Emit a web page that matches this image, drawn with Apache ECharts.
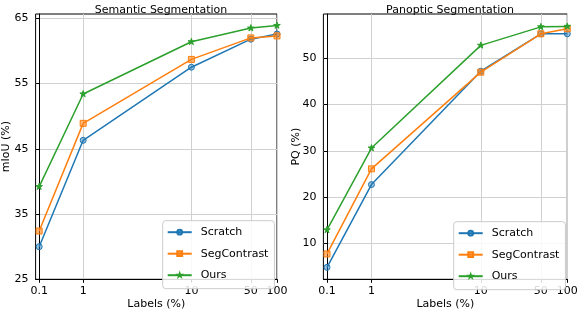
<!DOCTYPE html>
<html><head><meta charset="utf-8">
<script src="https://cdn.jsdelivr.net/npm/echarts@6/dist/echarts.min.js"></script>
<style>html,body{margin:0;padding:0;background:#fff}#c{width:578px;height:310px}</style>
</head><body><div id="c"></div>
<script>
// x values (labels in %) and their tick labels
const labelsPct = [0.1, 1, 10, 50, 100];
const xTickLabels = ['0.1', '1', '10', '50', '100'];
// anchor of each label value on the figure's custom x scale (0..100)
const xAxisAnchor = [0, 18.5, 64, 89, 100];

// Semantic segmentation (mIoU %)
const semScratch     = [30.0, 46.3, 57.5, 61.8, 62.6];
const semSegContrast = [32.4, 48.9, 58.7, 62.0, 62.3];
const semOurs        = [39.2, 53.4, 61.4, 63.5, 63.9];
// Panoptic segmentation (PQ %)
const panScratch     = [4.8, 22.7, 47.2, 55.3, 55.3];
const panSegContrast = [7.7, 26.1, 47.0, 55.3, 56.4];
const panOurs        = [12.9, 30.6, 52.8, 56.8, 56.9];

const semTicks = [25, 35, 45, 55, 65];
const panTicks = [10, 20, 30, 40, 50];
const seriesNames = ['Scratch', 'SegContrast', 'Ours'];

const xScale = v => xAxisAnchor[labelsPct.indexOf(v)];
const toPts = vals => labelsPct.map((x, i) => [xScale(x), vals[i]]);

const FONT = 'DejaVu Sans';
// star with transparent padding in its bounding box
const STAR = 'path://M-30,-30 M130,130 M50,0 L61,35 L98,35 L68,57 L79,91 L50,70 L21,91 L32,57 L2,35 L39,35 Z';
const styles = [
  {color: '#1f77b4', fill: 'rgba(31,119,180,0.45)', symbol: 'circle', size: 6},
  {color: '#ff7f0e', fill: 'rgba(255,127,14,0.55)', symbol: 'rect', size: 6},
  {color: '#2ca02c', fill: '#2ca02c', symbol: STAR, size: 11}
];

function mkX(idx) {
  return {
    type: 'value', gridIndex: idx, min: -1.5, max: 100,
    name: 'Labels (%)', nameLocation: 'middle', nameGap: 19.5, nameMoveOverlap: false,
    nameTextStyle: {fontFamily: FONT, fontSize: 11, color: '#000'},
    axisLine: {show: true, lineStyle: {color: '#000', width: 1}},
    axisTick: {show: true, length: 3.5, inside: false, lineStyle: {color: '#000'}, customValues: xAxisAnchor},
    axisLabel: {customValues: xAxisAnchor, margin: 6, fontFamily: FONT, fontSize: 11, color: '#000',
      formatter: v => { const i = xAxisAnchor.indexOf(v); return i >= 0 ? xTickLabels[i] : ''; }},
    splitLine: {show: true, lineStyle: {color: '#d0d0d0', width: 1}}
  };
}
function mkY(idx, min, max, ticks, name, gap) {
  return {
    type: 'value', gridIndex: idx, min: min, max: max,
    name: name, nameLocation: 'middle', nameGap: gap, nameMoveOverlap: false,
    nameTextStyle: {fontFamily: FONT, fontSize: 11, color: '#000'},
    axisLine: {show: true, lineStyle: {color: '#000', width: 1}},
    axisTick: {show: true, length: 3.5, lineStyle: {color: '#000'}, customValues: ticks},
    axisLabel: {customValues: ticks, margin: 7, fontFamily: FONT, fontSize: 11, color: '#000'},
    splitLine: {show: true, lineStyle: {color: '#d0d0d0', width: 1}}
  };
}
function mkSeries(name, k, vals, idx) {
  const s = styles[k];
  return {
    type: 'line', name: name, xAxisIndex: idx, yAxisIndex: idx,
    data: toPts(vals), symbol: s.symbol, symbolSize: s.size, showAllSymbol: true,
    lineStyle: {color: s.color, width: 1.5},
    itemStyle: {color: s.fill, borderColor: s.color, borderWidth: 1},
    emphasis: {disabled: true}, animation: false, z: 3 + k
  };
}
function mkLegend(left, top) {
  return {
    data: seriesNames, orient: 'vertical', left: left, top: top,
    itemWidth: 24, itemHeight: 6, itemGap: 10.5,
    padding: [6, 6, 8, 4],
    backgroundColor: 'rgba(255,255,255,0.85)', borderColor: '#cccccc', borderWidth: 1, borderRadius: 3,
    textStyle: {fontFamily: FONT, fontSize: 11, color: '#000', padding: [0, 0, 0, 4]},
    selectedMode: false
  };
}

const chart = echarts.init(document.getElementById('c'), null, {renderer: 'canvas'});
chart.setOption({
  animation: false,
  backgroundColor: '#fff',
  title: [
    {text: 'Semantic Segmentation', left: 156, top: 0, textAlign: 'center',
     textStyle: {fontFamily: FONT, fontSize: 11, fontWeight: 'normal', color: '#000'}},
    {text: 'Panoptic Segmentation', left: 445, top: 0, textAlign: 'center',
     textStyle: {fontFamily: FONT, fontSize: 11, fontWeight: 'normal', color: '#000'}}
  ],
  grid: [
    {left: 35.6, top: 14, width: 241.4, height: 265.3, outerBoundsMode: 'none', containLabel: false,
     show: true, borderColor: '#000', borderWidth: 1, backgroundColor: 'transparent'},
    {left: 323.4, top: 14, width: 243.9, height: 265.3, outerBoundsMode: 'none', containLabel: false,
     show: true, borderColor: '#000', borderWidth: 1, backgroundColor: 'transparent'}
  ],
  xAxis: [mkX(0), mkX(1)],
  yAxis: [mkY(0, 25, 65.66, semTicks, 'mIoU (%)', 24), mkY(1, 2.22, 59.58, panTicks, 'PQ (%)', 22)],
  legend: [mkLegend(162.7, 220.7), mkLegend(453.7, 221.7)],
  series: [
    mkSeries('Scratch', 0, semScratch, 0),
    mkSeries('SegContrast', 1, semSegContrast, 0),
    mkSeries('Ours', 2, semOurs, 0),
    mkSeries('Scratch', 0, panScratch, 1),
    mkSeries('SegContrast', 1, panSegContrast, 1),
    mkSeries('Ours', 2, panOurs, 1)
  ]
});
</script></body></html>
